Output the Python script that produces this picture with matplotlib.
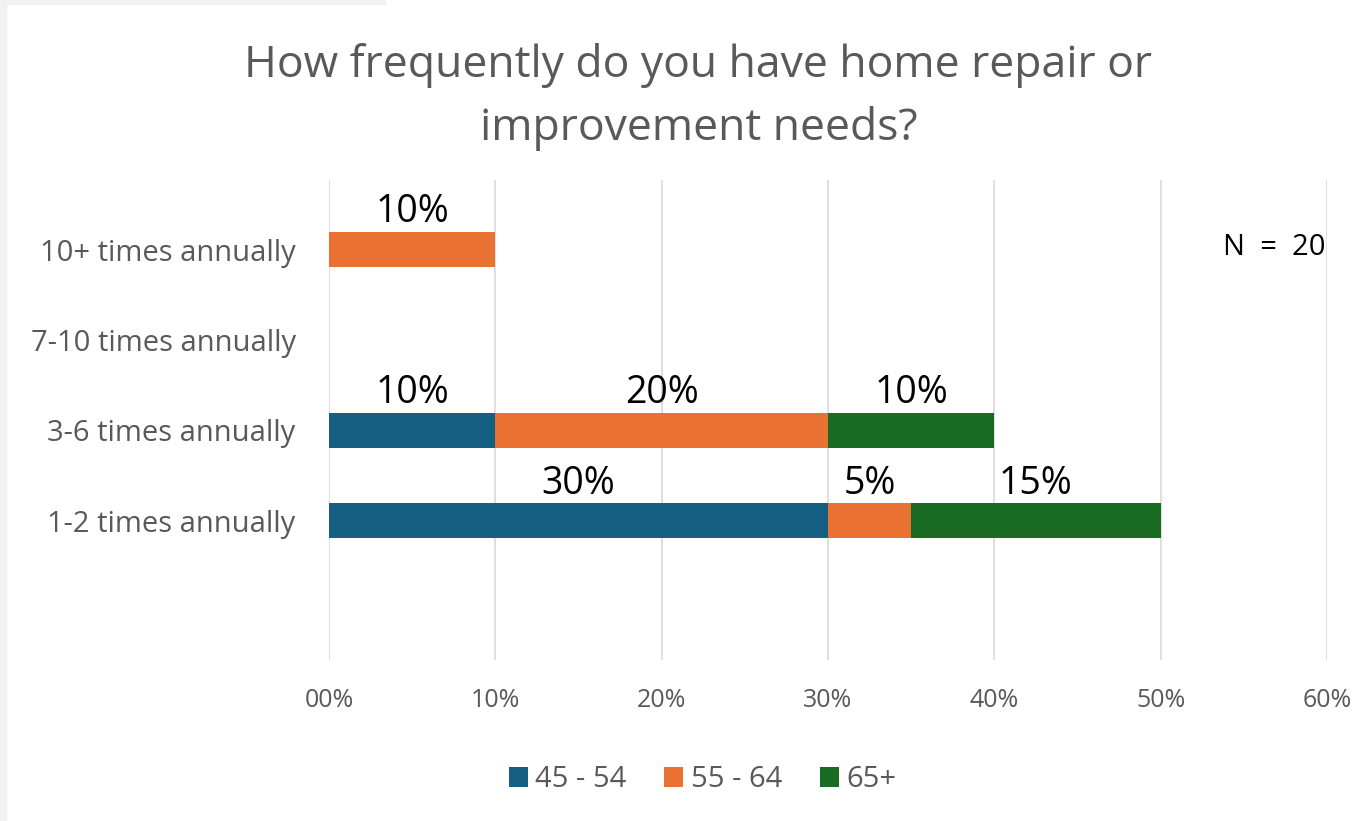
import matplotlib.pyplot as plt
import numpy as np

# Data
categories = ['1-2 times annually', '3-6 times annually', '7-10 times annually', '10+ times annually']
groups = ['45 - 54', '55 - 64', '65+']
vals_45_54 = [30, 10, 0, 0]
vals_55_64 = [5, 20, 0, 10]
vals_65 = [15, 10, 0, 0]
colors = ['#156082', '#E97132', '#196B24']
xticks = [0, 10, 20, 30, 40, 50, 60]
xtick_labels = ['00%', '10%', '20%', '30%', '40%', '50%', '60%']

fig = plt.figure(figsize=(13.64, 8.21), dpi=100)
# light gray screenshot edge (left and top)
fig.patches.append(plt.Rectangle((0, 0), 6 / 1364, 1, transform=fig.transFigure,
                                 color='#F2F2F2', zorder=0))
fig.patches.append(plt.Rectangle((0, 1 - 4 / 821), 385 / 1364, 4 / 821,
                                 transform=fig.transFigure, color='#F2F2F2', zorder=0))

ax = fig.add_axes([0.2412, 0.1961, 0.7317, 0.5847])

y = np.arange(len(categories))
left = np.zeros(len(categories))
for vals, name, c in zip([vals_45_54, vals_55_64, vals_65], groups, colors):
    vals = np.array(vals, dtype=float)
    ax.barh(y, vals, left=left, height=0.39, color=c, label=name, zorder=3)
    for yi, v, l in zip(y, vals, left):
        if v > 0:
            ax.text(l + v / 2, yi + 0.2, f'{int(v)}%', ha='center', va='bottom',
                    fontsize=27, color='black', family='Open Sans')
    left += vals

ax.set_xlim(0, 60)
ax.set_ylim(-1.54, 3.77)
ax.set_xticks(xticks)
ax.set_xticklabels(xtick_labels, fontsize=18, color='#595959', family='Open Sans')
ax.set_yticks(y)
ax.set_yticklabels(categories, fontsize=21, color='#595959', family='Open Sans')
ax.tick_params(axis='both', length=0)
ax.tick_params(axis='x', pad=20)
ax.tick_params(axis='y', pad=24)
ax.grid(axis='x', color='#D9D9D9', linewidth=1.2, zorder=0)
for s in ax.spines.values():
    s.set_visible(False)

ax.text(0.998, 0.86, 'N  =  20', transform=ax.transAxes, ha='right', va='center',
        fontsize=21, color='black', family='Open Sans')

fig.text(0.512, 0.882, 'How frequently do you have home repair or\nimprovement needs?',
         ha='center', va='center', fontsize=32, color='#595959', family='Open Sans',
         linespacing=1.55)

leg = fig.legend(loc='center', bbox_to_anchor=(0.515, 0.05), ncol=3, frameon=False,
                 fontsize=21, handlelength=0.65, handleheight=0.65, handletextpad=0.25,
                 columnspacing=1.3)
for t in leg.get_texts():
    t.set_color('#595959')
    t.set_family('Open Sans')

plt.savefig('out.png', dpi=100)
